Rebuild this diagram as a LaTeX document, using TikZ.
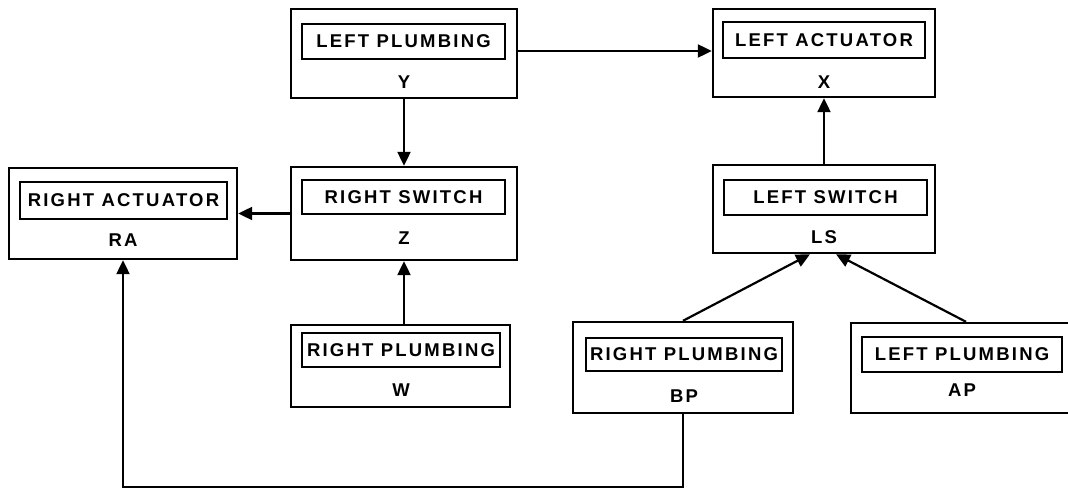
\documentclass[tikz,border=0pt]{standalone}
\usepackage{fontspec}
\setmainfont{Liberation Sans}
\newfontfamily\boxfont[LetterSpace=12]{Liberation Sans Bold}
\usetikzlibrary{arrows.meta}
\tikzset{
  outerbox/.style={draw, line width=2.4pt, rectangle, inner sep=0pt},
  innerbox/.style={draw, line width=1.7pt, rectangle, inner sep=0pt, font=\boxfont\fontsize{18.5}{21}\selectfont},
  codetext/.style={inner sep=0pt, font=\boxfont\fontsize{18.5}{21}\selectfont},
  arr/.style={line width=2.2pt, -{Triangle[length=14pt,width=13pt]}},
}
\begin{document}
\begin{tikzpicture}[x=1pt,y=-1pt]
\useasboundingbox (0,0) rectangle (1068,489);
\clip (0,0) rectangle (1068,489);
% Y
\node[outerbox, minimum width=226, minimum height=89] (y) at (404,53.5) {};
\node[innerbox, minimum width=203, minimum height=35] (yl) at (403.5,41.5) {LEFT PLUMBING};
\node[codetext] (yc) at (404,82) {Y};
% X
\node[outerbox, minimum width=222, minimum height=88] (x) at (824,53) {};
\node[innerbox, minimum width=202, minimum height=36] (xl) at (824,40) {LEFT ACTUATOR};
\node[codetext] (xc) at (824,82) {X};
% Z
\node[outerbox, minimum width=226, minimum height=93] (z) at (404,213.5) {};
\node[innerbox, minimum width=203, minimum height=34] (zl) at (403.5,197) {RIGHT SWITCH};
\node[codetext] (zc) at (404,238) {Z};
% RA
\node[outerbox, minimum width=228, minimum height=91] (ra) at (123,213.5) {};
\node[innerbox, minimum width=207, minimum height=37] (ral) at (123.5,200.5) {RIGHT ACTUATOR};
\node[codetext] (rac) at (123,240) {RA};
% W
\node[outerbox, minimum width=219, minimum height=82] (w) at (400.5,366) {};
\node[innerbox, minimum width=198, minimum height=34] (wl) at (401,350) {RIGHT PLUMBING};
\node[codetext] (wc) at (401,390) {W};
% BP
\node[outerbox, minimum width=220, minimum height=91] (bp) at (683,367.5) {};
\node[innerbox, minimum width=196, minimum height=33] (bpl) at (684,354.5) {RIGHT PLUMBING};
\node[codetext] (bpc) at (684,396) {BP};
% AP
\node[outerbox, minimum width=230, minimum height=90] (ap) at (966,368) {};
\node[innerbox, minimum width=200, minimum height=35] (apl) at (962,354.5) {LEFT PLUMBING};
\node[codetext] (apc) at (962,390) {AP};
% LS
\node[outerbox, minimum width=222, minimum height=88] (ls) at (824,209) {};
\node[innerbox, minimum width=203, minimum height=35] (lsl) at (825.5,197.5) {LEFT SWITCH};
\node[codetext] (lsc) at (824,237) {LS};
% connectors
\coordinate (lsa) at ([xshift=-14]ls.south);
\coordinate (lsb) at ([xshift=12]ls.south);
\draw[arr] ([yshift=2.5]y.east) -- ([yshift=2.5]y.east -| x.west);
\draw[arr] (y.south) -- (z.north);
\draw[arr] (w.north -| z.south) -- (z.south);
\draw[arr] (z.west) -- (ra.east);
\draw[arr] (ls.north) -- (x.south);
\draw[arr] (bp.north) -- (lsa);
\draw[arr] (ap.north) -- (lsb);
\draw[arr] (bp.south) -- ++(0,73) -| (ra.south);
\end{tikzpicture}
\end{document}
